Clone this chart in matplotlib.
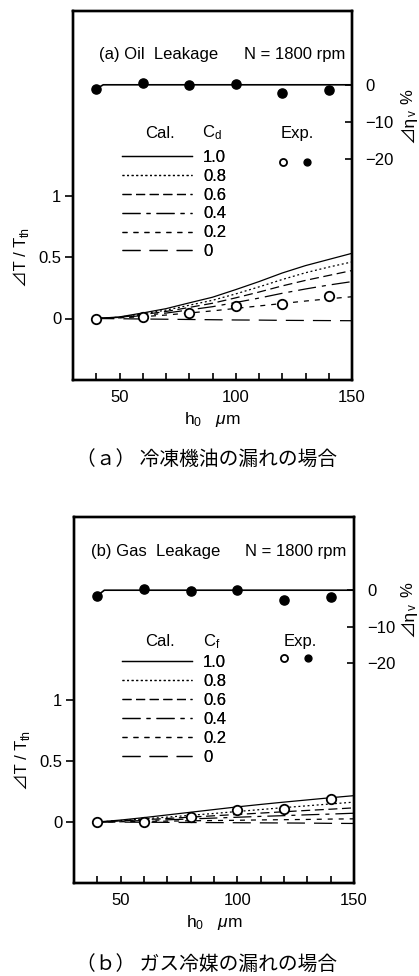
import matplotlib
matplotlib.use("Agg")
import matplotlib.pyplot as plt
from matplotlib.ticker import FixedLocator
from matplotlib.legend_handler import HandlerTuple
from matplotlib.transforms import blended_transform_factory

plt.rcParams.update({
    "font.family": ["Liberation Sans", "Noto Sans CJK JP"],
    "font.size": 12,
    "mathtext.fontset": "custom",
    "mathtext.rm": "Liberation Sans",
    "mathtext.it": "Liberation Sans:italic",
    "mathtext.bf": "Liberation Sans:bold",
    "lines.scale_dashes": False,
    "axes.linewidth": 1.7,
})

# ---- data -------------------------------------------------------------
h_cal = [40, 50, 60, 70, 80, 90, 100, 110, 120, 130, 140, 150]   # h0, um
h_exp = [40, 60, 80, 100, 120, 140]
h_eta_cal = [40, 43, 150]

coef_labels = ["1.0", "0.8", "0.6", "0.4", "0.2", "0"]

# (a) oil leakage: dT/Tth for Cd = 1.0 ... 0
oil_cd10 = [0, 0.013, 0.045, 0.080, 0.127, 0.173, 0.235, 0.300, 0.370, 0.430, 0.480, 0.530]
oil_cd08 = [0, 0.011, 0.038, 0.068, 0.108, 0.148, 0.200, 0.257, 0.317, 0.372, 0.418, 0.460]
oil_cd06 = [0, 0.009, 0.032, 0.057, 0.090, 0.124, 0.168, 0.215, 0.265, 0.310, 0.350, 0.390]
oil_cd04 = [0, 0.007, 0.024, 0.044, 0.070, 0.096, 0.130, 0.166, 0.205, 0.240, 0.272, 0.300]
oil_cd02 = [0, 0.005, 0.015, 0.028, 0.045, 0.062, 0.082, 0.102, 0.122, 0.142, 0.160, 0.177]
oil_cd00 = [0, -0.002, -0.004, -0.006, -0.008, -0.010, -0.012, -0.013, -0.015, -0.016, -0.017, -0.018]
oil_dT_exp = [0.0, 0.010, 0.042, 0.100, 0.118, 0.183]
oil_deta_exp = [-1.1, 0.4, -0.1, 0.2, -2.3, -1.5]      # %
oil_deta_cal = [-1.1, 0.0, 0.0]

# (b) gas leakage: dT/Tth for Cf = 1.0 ... 0
gas_cf10 = [0, 0.016, 0.036, 0.058, 0.080, 0.102, 0.124, 0.144, 0.163, 0.181, 0.199, 0.216]
gas_cf08 = [0, 0.012, 0.026, 0.040, 0.055, 0.070, 0.086, 0.102, 0.118, 0.133, 0.148, 0.163]
gas_cf06 = [0, 0.009, 0.019, 0.029, 0.040, 0.051, 0.062, 0.073, 0.084, 0.095, 0.105, 0.116]
gas_cf04 = [0, 0.006, 0.012, 0.018, 0.025, 0.032, 0.039, 0.046, 0.052, 0.059, 0.065, 0.072]
gas_cf02 = [0, 0.002, 0.005, 0.007, 0.010, 0.012, 0.014, 0.017, 0.019, 0.021, 0.024, 0.026]
gas_cf00 = [0, -0.001, -0.002, -0.003, -0.004, -0.005, -0.006, -0.007, -0.008, -0.009, -0.011, -0.012]
gas_dT_exp = [0.0, 0.003, 0.040, 0.098, 0.110, 0.186]
gas_deta_exp = [-1.5, 0.2, -0.3, 0.0, -2.6, -1.9]      # %
gas_deta_cal = [-1.5, 0.0, 0.0]

x_ticks = [50, 100, 150]
x_minor = [40, 60, 70, 80, 90, 110, 120, 130, 140]
left_ticks = [0, 0.5, 1]
left_ticklabels = ["0", "0.5", "1"]
right_ticks = [0, -10, -20]
right_ticklabels = ["0", "\u221210", "\u221220"]

# ---- styles -----------------------------------------------------------
line_styles = ["-", (0, (1.4, 1.9)), (0, (6.5, 3.3)), (0, (13, 4.3, 2.9, 4.3)),
               (0, (3.6, 4.3)), (0, (13, 6.5))]
FS = 12

W, H = 419, 976
fig = plt.figure(figsize=(W / 100, H / 100), dpi=100)


def px_rect(left, right, top, bottom):
    return [left / W, 1 - bottom / H, (right - left) / W, (bottom - top) / H]


def draw_panel(frame, curves, dT_exp, deta_exp, deta_cal, head, coef_sym, caption, lay):
    ax = fig.add_axes(px_rect(*frame))
    ax.set_xlim(30, 150)
    ax.set_ylim(-0.5, 2.5)

    handles = []
    for vals, ls, lab in zip(curves, line_styles, coef_labels):
        ln, = ax.plot(h_cal, vals, color="black", lw=0.9, ls=ls, label=lab)
        handles.append(ln)
    op, = ax.plot(h_exp, dT_exp, ls="none", marker="o", ms=6.8, mfc="white",
                  mec="black", mew=1.3, zorder=5)

    ax2 = ax.twinx()
    ax2.set_ylim(-80, 20)
    ax2.plot(h_eta_cal, deta_cal, color="black", lw=1.2)
    fl, = ax2.plot(h_exp, deta_exp, ls="none", marker="o", ms=6.6, color="black")

    # axes / ticks
    ax.xaxis.set_major_locator(FixedLocator(x_ticks))
    ax.xaxis.set_minor_locator(FixedLocator(x_minor))
    ax.tick_params(axis="x", which="both", direction="in", length=5, width=1.2,
                   top=False, pad=7, labelsize=FS)
    ax.set_yticks(left_ticks)
    ax.set_yticklabels(left_ticklabels)
    ax.tick_params(axis="y", direction="out", length=5.5, width=1.2, pad=3, labelsize=FS)
    ax2.set_yticks(right_ticks)
    ax2.set_yticklabels(right_ticklabels)
    ax2.tick_params(axis="y", direction="in", length=5, width=1.2, pad=9.5, labelsize=FS)

    ax.set_xlabel(r"$\mathrm{h_0}\ \ \ \mu\mathrm{m}$", fontsize=12.5, labelpad=4)

    # left label: dT / T_th
    tr = blended_transform_factory(ax.transAxes, ax.transData)
    lab = ax.text(lay["ylab_x"], lay["ylab_y"], "\u22bfT / T", rotation=90,
                  ha="center", va="center", transform=tr, fontsize=12)
    ax.annotate("th", xy=(1, 1), xycoords=lab, xytext=(1.8, 0), textcoords="offset points",
                rotation=90, ha="right", va="bottom", fontsize=8.5)

    # right label: d eta_v  %
    rl = ax2.text(lay["rlab_x"], lay["rlab_y"], "\u22bf\u03b7", rotation=90,
                  ha="center", va="bottom", transform=ax2.transAxes, fontsize=12.5)
    sub = ax2.annotate("v", xy=(1, 1), xycoords=rl, xytext=(2.5, 0), textcoords="offset points",
                       rotation=90, ha="right", va="bottom", fontsize=8.5)
    ax2.annotate("%", xy=(0.5, 1), xycoords=(rl, sub), xytext=(0, 5), textcoords="offset points",
                 rotation=90, ha="center", va="bottom", fontsize=12)

    # heading
    ax.text(lay["head_x"], lay["head_y"], head, transform=ax.transAxes, ha="left",
            va="center", fontsize=FS)
    ax.text(lay["n_x"], lay["head_y"], "N = 1800 rpm", transform=ax.transAxes, ha="right",
            va="center", fontsize=FS)

    # legend block
    ax.text(lay["cal_x"], lay["hdr_y"], "Cal.", transform=ax.transAxes, ha="center",
            va="center", fontsize=FS)
    ax.text(lay["sym_x"], lay["hdr_y"], coef_sym, transform=ax.transAxes, ha="center",
            va="center", fontsize=FS)
    ax.text(lay["exp_x"], lay["hdr_y"], "Exp.", transform=ax.transAxes, ha="center",
            va="center", fontsize=FS)
    leg = ax.legend(handles=handles, loc="upper left", bbox_to_anchor=(lay["leg_x"], lay["leg_y"]),
                    bbox_transform=ax.transAxes, frameon=False, borderpad=0, borderaxespad=0,
                    handlelength=4.2, handletextpad=0.68, labelspacing=0.235, fontsize=FS)
    ax.add_artist(leg)
    ax2.legend(handles=[(op, fl)], labels=[""], handler_map={tuple: HandlerTuple(ndivide=None, pad=0)},
               loc="center left", bbox_to_anchor=(lay["mk_x"], lay["mk_y"]),
               bbox_transform=ax2.transAxes, frameon=False, borderpad=0, borderaxespad=0,
               handlelength=2.87, handletextpad=0, markerscale=0.75, fontsize=FS)

    fig.text(lay["cap_x"] / W, 1 - lay["cap_y"] / H, caption, ha="left", va="center",
             fontsize=14.2, family=["Noto Sans CJK JP"])
    return ax


lay_a = dict(ylab_x=-0.183, ylab_y=0.46, rlab_x=1.2, rlab_y=0.641,
             head_x=0.094, n_x=0.975, head_y=0.881,
             cal_x=0.312, sym_x=0.497, exp_x=0.803, hdr_y=0.669,
             leg_x=0.175, leg_y=0.624, mk_x=0.711, mk_y=0.588,
             cap_x=75.5, cap_y=460)
lay_b = dict(ylab_x=-0.183, ylab_y=0.47, rlab_x=1.192, rlab_y=0.673,
             head_x=0.060, n_x=0.974, head_y=0.907,
             cal_x=0.307, sym_x=0.492, exp_x=0.807, hdr_y=0.659,
             leg_x=0.170, leg_y=0.623, mk_x=0.706, mk_y=0.611,
             cap_x=76.5, cap_y=965)

draw_panel((73, 352, 11, 380),
           [oil_cd10, oil_cd08, oil_cd06, oil_cd04, oil_cd02, oil_cd00],
           oil_dT_exp, oil_deta_exp, oil_deta_cal,
           "(a) Oil  Leakage", r"$\mathrm{C_d}$",
           "（ａ） 冷凍機油の漏れの場合", lay_a)
draw_panel((74, 354, 517, 883),
           [gas_cf10, gas_cf08, gas_cf06, gas_cf04, gas_cf02, gas_cf00],
           gas_dT_exp, gas_deta_exp, gas_deta_cal,
           "(b) Gas  Leakage", r"$\mathrm{C_f}$",
           "（ｂ） ガス冷媒の漏れの場合", lay_b)

fig.savefig("out.png", dpi=100)
